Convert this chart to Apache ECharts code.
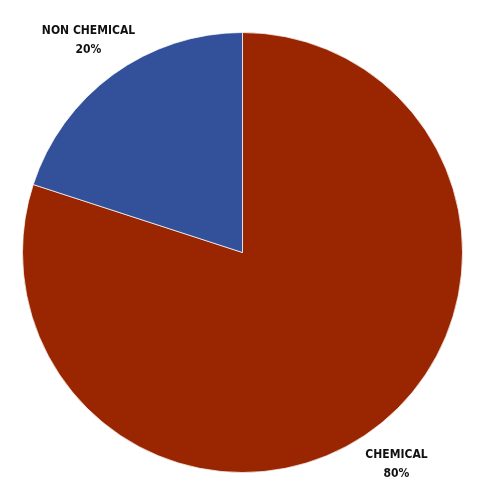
<!DOCTYPE html>
<html>
<head>
<meta charset="utf-8">
<script src="https://cdn.jsdelivr.net/npm/echarts@6/dist/echarts.min.js"></script>
<style>
  html, body { margin: 0; padding: 0; background: #fff; }
  #chart { width: 498px; height: 501px; }
</style>
</head>
<body>
<div id="chart"></div>
<script>
var categories = ["CHEMICAL", "NON CHEMICAL"];
var shares = [80, 20];
var sliceColors = ["#992600", "#33519a"];

var pieData = categories.map(function (name, i) {
  return { name: name, value: shares[i], itemStyle: { color: sliceColors[i] } };
});

var myChart = echarts.init(document.getElementById("chart"));
var Option = {
  animation: false,
  series: [
    {
      type: "pie",
      center: [242.5, 252.5],
      radius: [0, 220],
      startAngle: 90,
      clockwise: true,
      silent: true,
      itemStyle: {
        borderColor: "rgba(255,255,255,0.7)",
        borderWidth: 1
      },
      label: { show: false },
      labelLine: { show: false },
      data: pieData
    },
    {
      // transparent ring, only used to place the labels outside the pie
      type: "pie",
      center: [242.5, 252.5],
      radius: [246, 272],
      startAngle: 90,
      clockwise: true,
      silent: true,
      itemStyle: { color: "transparent" },
      label: {
        show: true,
        position: "inside",
        formatter: "{b}\n{c}%",
        color: "#111",
        fontFamily: "DejaVu Sans Condensed",
        fontWeight: "bold",
        fontSize: 12,
        lineHeight: 19
      },
      labelLine: { show: false },
      data: pieData.map(function (d) { return { name: d.name, value: d.value }; })
    }
  ]
};
myChart.setOption(Option);
</script>
</body>
</html>
